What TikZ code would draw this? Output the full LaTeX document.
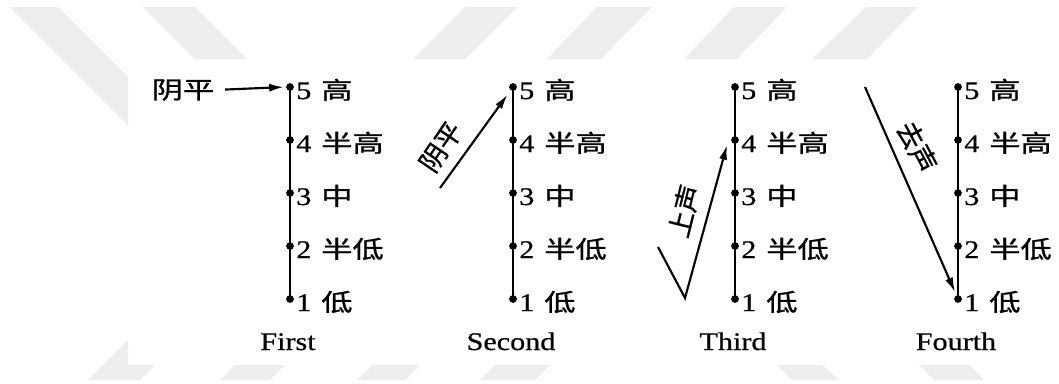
\documentclass[tikz,border=0pt]{standalone}
\usepackage{fontspec}
\usepackage{graphicx}
\setmainfont{Liberation Serif}[FakeBold=0.5]
\newfontfamily\cjk{Noto Sans CJK SC}[FakeBold=0.9]
\usetikzlibrary{arrows.meta}
\newcommand{\latw}[1]{\scalebox{1.19}[1]{\fontsize{19}{19}\selectfont #1}}
\newcommand{\cjkw}[1]{\scalebox{1.3}[1]{\fontsize{18}{18}\selectfont\cjk #1}}
\definecolor{wm}{gray}{0.93}
\tikzset{
  dot/.style={circle,fill=black,inner sep=0pt,minimum size=5.8pt},
  axisline/.style={line width=2pt},
  arr/.style={line width=1.6pt,-{Latex[length=11pt,width=6pt]}},
  lab/.style={anchor=base west,inner sep=0pt},
  ttl/.style={anchor=base,inner sep=0pt},
  rlab/.style={inner sep=0pt,font=\fontsize{20}{20}\selectfont\cjk},
  stripe/.style={fill=wm,draw=none}
}
\begin{document}
\begin{tikzpicture}[x=0.75pt,y=-0.75pt]
\useasboundingbox (0,0) rectangle (1059,383);
% watermark stripes
\fill[stripe] (10,7) -- (58,7) -- (128,77) -- (128,125) -- cycle;
\fill[stripe] (143,7) -- (195,7) -- (247,59) -- (195,59) -- cycle;
\fill[stripe] (465,7) -- (517,7) -- (465,59) -- (413,59) -- cycle;
\fill[stripe] (597,7) -- (652,7) -- (601,59) -- (547,59) -- cycle;
\fill[stripe] (734,7) -- (787,7) -- (737,59) -- (684,59) -- cycle;
\fill[stripe] (866,7) -- (917,7) -- (867,59) -- (812,59) -- cycle;
\fill[stripe] (88,380) -- (140,380) -- (155,365) -- (128,365) -- (128,340) -- cycle;
\fill[stripe] (220,380) -- (270,380) -- (285,365) -- (235,365) -- cycle;
\fill[stripe] (357,380) -- (405,380) -- (420,365) -- (372,365) -- cycle;
\fill[stripe] (480,380) -- (535,380) -- (550,365) -- (495,365) -- cycle;
\fill[stripe] (777,365) -- (822,365) -- (839,380) -- (792,380) -- cycle;
\fill[stripe] (919,365) -- (969,365) -- (984,380) -- (934,380) -- cycle;
% scales
\foreach \i/\ax/\nm in {1/290/First,2/513/Second,3/735/Third,4/958/Fourth} {
  \foreach \k/\yy/\t in {5/87/高,4/140/半高,3/193/中,2/246/半低,1/299/低} {
    \node[dot] (a\i-\k) at (\ax,\yy) {};
    \node[lab] (l\i-\k) at (\ax+6,\yy+12) {\latw{\k}\hspace{7.5pt}\cjkw{\t}};
  }
  \draw[axisline] (a\i-5.center) -- (a\i-1.center);
  \node[ttl] (t\i) at (\ax-2,350) {\latw{\nm}};
}
% First tone
\node[inner sep=0pt] (yp1) at (183,90) {\cjkw{阴平}};
\draw[arr,shorten <=8pt,shorten >=1.5pt] (yp1.east) -- (a1-5.west);
% Second tone
\coordinate (s2) at (440,188);
\draw[arr,shorten >=4pt] (s2) -- (a2-5);
\node[rlab,rotate=56] (yp2) at (441,147) {阴平};
% Third tone
\coordinate (s3) at (658,247);
\coordinate (m3) at (685,298);
\coordinate (e3) at (727,145);
\draw[arr,line join=miter] (s3) -- (m3) -- (e3);
\node[rlab,rotate=76] (ss3) at (684,211) {上声};
% Fourth tone
\coordinate (s4) at (865,87);
\draw[arr,shorten >=2.5pt] (s4) -- (a4-1);
\node[rlab,rotate=-62] (qs4) at (917,147) {去声};
\end{tikzpicture}
\end{document}
